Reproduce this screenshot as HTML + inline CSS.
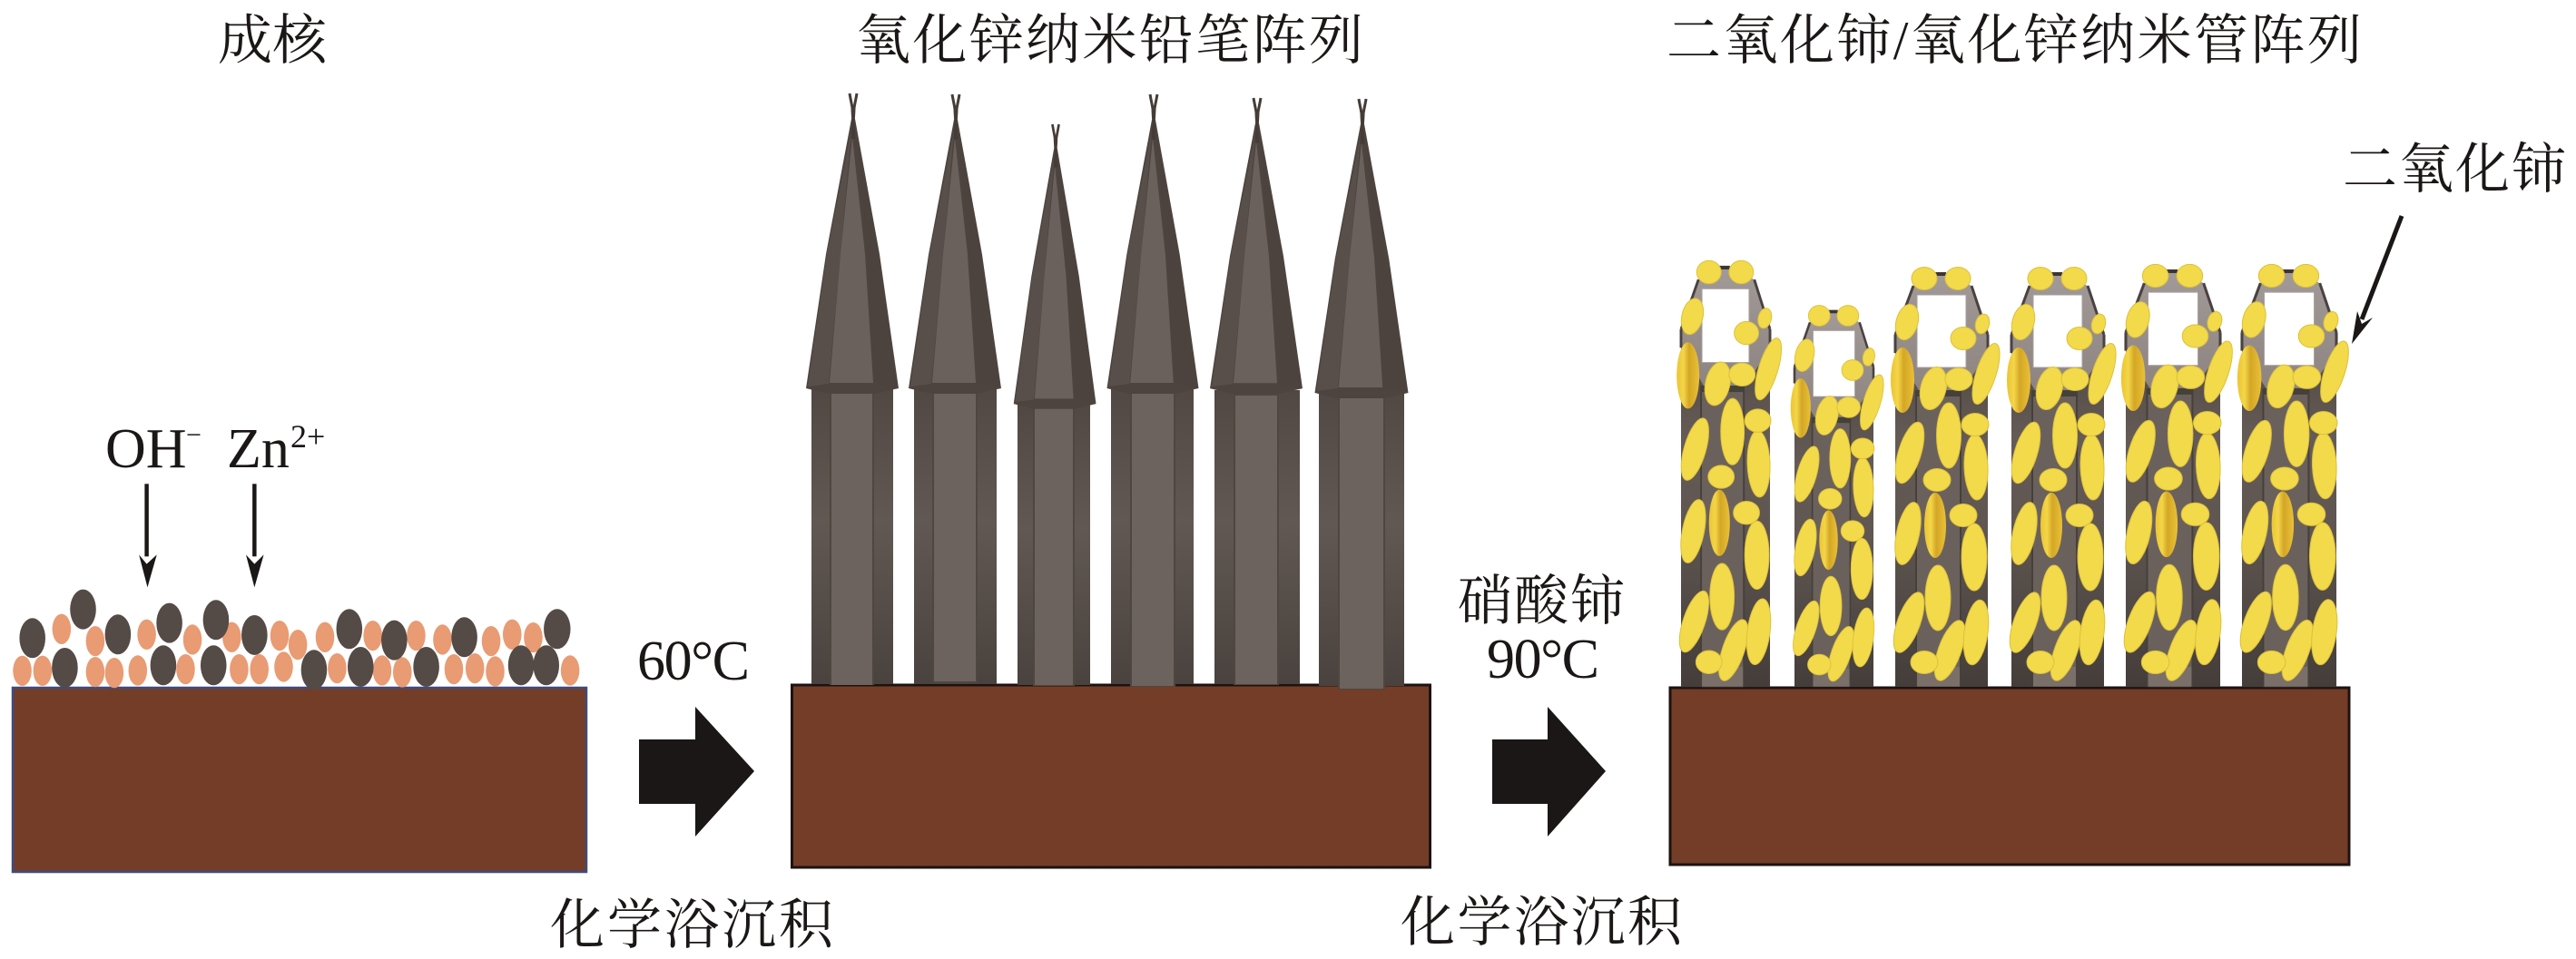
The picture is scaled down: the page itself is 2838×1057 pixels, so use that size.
<!DOCTYPE html>
<html><head><meta charset="utf-8">
<style>
html,body{margin:0;padding:0;background:#fff}
svg{display:block}
text{font-family:"Liberation Serif","Noto Serif CJK SC",serif;fill:#1a1716;font-size:60px}
.d{fill:#544a46}
.o{fill:#e99b73}
.y{fill:#f3da4b;stroke:#dcc03a;stroke-width:1}
.g{fill:url(#gold)}
.sh{fill:url(#shaft)}
.ln{fill:#4f463f}
.in{fill:#6d635e}
</style></head>
<body>
<svg xmlns="http://www.w3.org/2000/svg" width="2838" height="1057" viewBox="0 0 2838 1057">
<defs>
<linearGradient id="shaft" x1="0" y1="0" x2="0" y2="1"><stop offset="0" stop-color="#514843"/><stop offset=".45" stop-color="#615853"/><stop offset="1" stop-color="#4a423e"/></linearGradient>
<linearGradient id="tshaft" x1="0" y1="0" x2="0" y2="1"><stop offset="0" stop-color="#4e4642"/><stop offset=".3" stop-color="#655b56"/><stop offset=".55" stop-color="#5f5651"/><stop offset="1" stop-color="#443d3a"/></linearGradient>
<linearGradient id="capg" x1="0" y1="0" x2="0" y2="1"><stop offset="0" stop-color="#a29a98"/><stop offset="1" stop-color="#8d8481"/></linearGradient>
<linearGradient id="gold" x1="0" y1="0" x2="1" y2="0"><stop offset="0" stop-color="#ecc433"/><stop offset=".3" stop-color="#f3d648"/><stop offset=".55" stop-color="#d4a626"/><stop offset="1" stop-color="#eac136"/></linearGradient>

<g id="cap">
<polygon points="-52,325 -30,177 -2,28 2,28 29,177 50,325 23,331 -27,331" fill="#4d443f"/>
<polygon points="-50,323 -29,177 -2,40 -14,177 -27,320" fill="#584f4a"/>
<polygon points="48,323 28,177 3,40 14,177 23,320" fill="#4c433f"/>
<polygon points="-26,319 -14,177 -1,48 13,177 22,319" fill="#6b615c"/>
<path d="M1,50 C0,30 -1,22 -1,16 C-2,10 -3,6 -4,0 M-1,50 C0,30 1,22 1,16 C2,10 3,6 4,0" fill="none" stroke="#453c38" stroke-width="3"/>
</g>

<g id="tube">
<rect x="0" y="62" width="102" height="388" fill="url(#tshaft)"/>
<rect x="22" y="123" width="51" height="327" fill="#46403b"/>
<rect x="24" y="130" width="47" height="320" fill="#6b615c"/>
<rect x="24" y="428" width="47" height="21" fill="#7a6f69"/>
<polygon points="44,-5 56,-5 84,8 102,62 102,82 74,123 26,123 0,82 0,62 20,8" fill="url(#capg)"/>
<path d="M20,8 L0,62 M84,8 L102,62 M0,62 L0,82 M102,62 L102,82" fill="none" stroke="#4a4240" stroke-width="3"/>
<path d="M44,-5 L56,-5" stroke="#3c3532" stroke-width="4"/>
<rect x="24" y="18" width="54" height="80" fill="#fff" stroke="#a89f9d" stroke-width="1"/>
<ellipse class="y" cx="32" cy="0" rx="14" ry="12.5"/>
<ellipse class="y" cx="69" cy="0" rx="14" ry="12.5"/>
<ellipse class="y" cx="13" cy="48" rx="12" ry="20" transform="rotate(15 13 48)"/>
<ellipse class="y" cx="96" cy="50" rx="7.5" ry="11" transform="rotate(15 96 50)"/>
<ellipse class="y" cx="75" cy="66" rx="14" ry="12.5"/>
<ellipse class="g" cx="8" cy="112" rx="13" ry="36"/>
<ellipse class="y" cx="42" cy="121" rx="14" ry="24" transform="rotate(14 42 121)"/>
<ellipse class="y" cx="70" cy="111" rx="15" ry="12.5"/>
<ellipse class="y" cx="100" cy="105" rx="11" ry="35" transform="rotate(18 100 105)"/>
<ellipse class="y" cx="59" cy="173" rx="13.5" ry="36"/>
<ellipse class="y" cx="89" cy="208" rx="13" ry="36" transform="rotate(-2 89 208)"/>
<ellipse class="y" cx="88" cy="161" rx="15" ry="12.5"/>
<ellipse class="y" cx="16" cy="192" rx="12.5" ry="35" transform="rotate(17 16 192)"/>
<ellipse class="y" cx="46" cy="222" rx="15" ry="12.5"/>
<ellipse class="g" cx="44" cy="272" rx="12" ry="36"/>
<ellipse class="y" cx="75" cy="261" rx="15" ry="12.5"/>
<ellipse class="y" cx="87" cy="307" rx="14" ry="37"/>
<ellipse class="y" cx="14" cy="281" rx="12.5" ry="35" transform="rotate(12 14 281)"/>
<ellipse class="y" cx="47" cy="352" rx="14" ry="36"/>
<ellipse class="y" cx="15" cy="379" rx="12.5" ry="35" transform="rotate(20 15 379)"/>
<ellipse class="y" cx="60" cy="410" rx="12.5" ry="35" transform="rotate(20 60 410)"/>
<ellipse class="y" cx="89" cy="390" rx="13" ry="36" transform="rotate(8 89 390)"/>
<ellipse class="y" cx="32" cy="423" rx="15" ry="12.5"/>
</g>
</defs>

<rect width="2838" height="1057" fill="#fff"/>

<!-- Titles -->
<text x="240" y="65" textLength="120">成核</text>
<text x="943" y="65" textLength="559">氧化锌纳米铅笔阵列</text>
<text x="1836" y="65" textLength="766">二氧化铈/氧化锌纳米管阵列</text>
<text x="2581" y="207" textLength="246">二氧化铈</text>

<!-- Left panel -->
<rect x="14" y="758" width="632" height="203" fill="#733d28" stroke="#3f4a82" stroke-width="2.5"/>
<g transform="translate(0,440) scale(0.4464,0.3333)">
<g class="o">
<ellipse cx="152" cy="760" rx="23" ry="50"/><ellipse cx="235" cy="800" rx="23" ry="50"/><ellipse cx="55" cy="898" rx="23" ry="50"/><ellipse cx="105" cy="898" rx="23" ry="50"/><ellipse cx="235" cy="902" rx="23" ry="50"/><ellipse cx="282" cy="905" rx="23" ry="50"/><ellipse cx="340" cy="897" rx="23" ry="50"/><ellipse cx="362" cy="778" rx="23" ry="50"/><ellipse cx="475" cy="795" rx="23" ry="50"/><ellipse cx="458" cy="893" rx="23" ry="50"/><ellipse cx="572" cy="787" rx="23" ry="50"/><ellipse cx="590" cy="893" rx="23" ry="50"/><ellipse cx="640" cy="893" rx="23" ry="50"/><ellipse cx="690" cy="782" rx="23" ry="50"/><ellipse cx="700" cy="885" rx="23" ry="50"/><ellipse cx="735" cy="812" rx="23" ry="50"/><ellipse cx="802" cy="787" rx="23" ry="50"/><ellipse cx="832" cy="890" rx="23" ry="50"/><ellipse cx="920" cy="782" rx="23" ry="50"/><ellipse cx="943" cy="897" rx="23" ry="50"/><ellipse cx="993" cy="903" rx="23" ry="50"/><ellipse cx="1027" cy="782" rx="23" ry="50"/><ellipse cx="1092" cy="795" rx="23" ry="50"/><ellipse cx="1120" cy="893" rx="23" ry="50"/><ellipse cx="1172" cy="890" rx="23" ry="50"/><ellipse cx="1212" cy="800" rx="23" ry="50"/><ellipse cx="1222" cy="900" rx="23" ry="50"/><ellipse cx="1264" cy="778" rx="23" ry="50"/><ellipse cx="1316" cy="788" rx="23" ry="50"/><ellipse cx="1407" cy="897" rx="23" ry="50"/>
</g>
<g class="d">
<ellipse cx="205" cy="695" rx="32" ry="66"/><ellipse cx="80" cy="790" rx="32" ry="66"/><ellipse cx="160" cy="888" rx="32" ry="66"/><ellipse cx="291" cy="778" rx="32" ry="66"/><ellipse cx="418" cy="740" rx="32" ry="66"/><ellipse cx="403" cy="880" rx="32" ry="66"/><ellipse cx="533" cy="730" rx="32" ry="66"/><ellipse cx="527" cy="880" rx="32" ry="66"/><ellipse cx="628" cy="780" rx="32" ry="66"/><ellipse cx="775" cy="895" rx="32" ry="66"/><ellipse cx="862" cy="760" rx="32" ry="66"/><ellipse cx="890" cy="885" rx="32" ry="66"/><ellipse cx="973" cy="797" rx="32" ry="66"/><ellipse cx="1052" cy="885" rx="32" ry="66"/><ellipse cx="1146" cy="787" rx="32" ry="66"/><ellipse cx="1286" cy="880" rx="32" ry="66"/><ellipse cx="1348" cy="880" rx="32" ry="66"/><ellipse cx="1375" cy="760" rx="33" ry="66"/>
</g>
<rect x="357" y="280" width="10" height="240" fill="#1a1716"/>
<polygon points="343,514 362,545 387,514 364,622" fill="#1a1716"/>
<rect x="623" y="280" width="10" height="240" fill="#1a1716"/>
<polygon points="607,514 628,545 651,514 628,622" fill="#1a1716"/>
</g>
<text x="116" y="515" style="font-size:62px">OH</text>
<text x="205" y="489" style="font-size:30px">−</text>
<text x="250" y="515" style="font-size:62px">Zn</text>
<text x="320" y="493" style="font-size:36px">2+</text>

<!-- Block arrows and labels -->
<polygon points="704,815 766,815 766,779 831,850 766,922 766,886 704,886" fill="#1a1716"/>
<polygon points="1644,815 1705,815 1705,779 1769,850 1705,922 1705,886 1644,886" fill="#1a1716"/>
<text x="702" y="749" style="font-size:62px" textLength="124">60°C</text>
<text x="1638" y="747" style="font-size:62px" textLength="124">90°C</text>
<text x="1606" y="683" textLength="184">硝酸铈</text>
<text x="606" y="1040" textLength="312">化学浴沉积</text>
<text x="1543" y="1037" textLength="310">化学浴沉积</text>

<!-- Middle panel -->
<rect x="872.5" y="755" width="703" height="201" fill="#733d28" stroke="#1c1311" stroke-width="3"/>

<rect class="sh" x="894" y="428" width="90" height="326"/><rect class="ln" x="914" y="428" width="49" height="327"/><rect class="in" x="916" y="433" width="45" height="322"/>
<rect class="sh" x="1007" y="428" width="91" height="326"/><rect class="ln" x="1027" y="428" width="50" height="325"/><rect class="in" x="1029" y="432" width="46" height="319"/>
<rect class="sh" x="1121" y="445" width="80" height="310"/><rect class="ln" x="1138" y="445" width="46" height="311"/><rect class="in" x="1140" y="450" width="42" height="305"/>
<rect class="sh" x="1224" y="428" width="91" height="326"/><rect class="ln" x="1245" y="428" width="50" height="329"/><rect class="in" x="1247" y="434" width="46" height="322"/>
<rect class="sh" x="1338" y="430" width="94" height="324"/><rect class="ln" x="1359" y="430" width="50" height="325"/><rect class="in" x="1361" y="436" width="46" height="318"/>
<rect class="sh" x="1453" y="432" width="94" height="324"/><rect class="ln" x="1474" y="432" width="52" height="328"/><rect class="in" x="1476" y="437" width="48" height="322"/>

<use href="#cap" transform="translate(940,103) scale(1,1)"/>
<use href="#cap" transform="translate(1053,104) scale(1,0.997)"/>
<use href="#cap" transform="translate(1163,137) scale(0.89,0.948)"/>
<use href="#cap" transform="translate(1271,104) scale(0.99,0.997)"/>
<use href="#cap" transform="translate(1385,108) scale(1,0.985)"/>
<use href="#cap" transform="translate(1501,109) scale(1.01,0.997)"/>

<!-- Right panel -->
<rect x="1840" y="758" width="748" height="195" fill="#733d28" stroke="#1c1311" stroke-width="3"/>
<use href="#tube" transform="translate(1852,300) scale(0.961,1.016)"/>
<use href="#tube" transform="translate(1977,348) scale(0.853,0.909)"/>
<use href="#tube" transform="translate(2088,307)"/>
<use href="#tube" transform="translate(2216,307)"/>
<use href="#tube" transform="translate(2342,304) scale(1.02,1.007)"/>
<use href="#tube" transform="translate(2470,304) scale(1.02,1.007)"/>

<!-- Ceria arrow -->
<line x1="2646" y1="238" x2="2602" y2="352" stroke="#1a1716" stroke-width="5"/>
<polygon points="2597,343 2602,357 2614,350 2591,379" fill="#1a1716"/>
</svg>
</body></html>
